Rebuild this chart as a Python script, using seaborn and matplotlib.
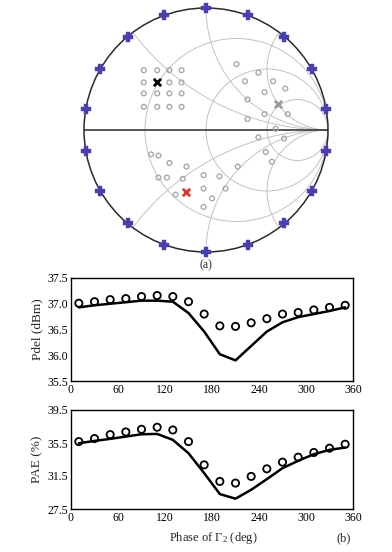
import numpy as np
import matplotlib
matplotlib.use("Agg")
import matplotlib.pyplot as plt
import matplotlib.patches as mpatches
import seaborn as sns

# === DATA ===
phase = [10, 30, 50, 70, 90, 110, 130, 150, 170, 190, 210, 230, 250, 270, 290, 310, 330, 350]

pdel_meas = [37.01, 37.04, 37.08, 37.10, 37.14, 37.16, 37.14, 37.04, 36.80, 36.57,
             36.56, 36.63, 36.71, 36.80, 36.83, 36.88, 36.93, 36.97]
pdel_sim = [36.93, 36.97, 37.00, 37.03, 37.06, 37.06, 37.04, 36.82, 36.46, 36.02,
            35.90, 36.18, 36.46, 36.64, 36.74, 36.80, 36.86, 36.93]

pae_meas = [35.67, 36.04, 36.52, 36.84, 37.16, 37.41, 37.08, 35.67, 32.85, 30.84,
            30.64, 31.45, 32.37, 33.18, 33.78, 34.35, 34.87, 35.35]
pae_sim = [35.47, 35.75, 36.00, 36.28, 36.56, 36.60, 35.88, 34.26, 31.85, 29.31,
           28.75, 29.83, 31.12, 32.45, 33.34, 34.14, 34.67, 34.95]

# load-pull points on the Smith chart (reflection coefficient, re / im)
lp_re = [-0.51, -0.40, -0.30, -0.20,
         -0.51, -0.30, -0.20,
         -0.51, -0.40, -0.30, -0.20,
         -0.51, -0.40, -0.30, -0.20,
         0.25, 0.43, 0.32, 0.55, 0.65, 0.48, 0.34, 0.67, 0.48, 0.34,
         0.57, 0.43, 0.64, 0.49, 0.54, 0.26,
         -0.45, -0.39, -0.30, -0.16, -0.39, -0.32, -0.19, -0.02, 0.11,
         0.16, -0.02, -0.25, 0.05, -0.02]
lp_im = [0.49, 0.49, 0.49, 0.49,
         0.39, 0.39, 0.39,
         0.30, 0.30, 0.30, 0.30,
         0.19, 0.19, 0.19, 0.19,
         0.54, 0.47, 0.40, 0.40, 0.34, 0.31, 0.25, 0.13, 0.13, 0.09,
         0.01, -0.06, -0.07, -0.18, -0.26, -0.30,
         -0.20, -0.21, -0.27, -0.30, -0.39, -0.39, -0.40, -0.37, -0.38,
         -0.48, -0.48, -0.53, -0.56, -0.63]

opt_re = [-0.40, -0.16, 0.59]
opt_im = [0.39, -0.51, 0.21]
opt_colors = ['black', '#e8312a', '#a09a9a']

r_circles = [1 / 3, 1, 3]
x_arcs = [0.5, 1, 2, -0.5, -1, -2]

# === STYLE ===
sns.set_theme(style="white")
plt.rcParams['font.family'] = ['Liberation Serif', 'DejaVu Serif']
plt.rcParams['mathtext.fontset'] = 'custom'
plt.rcParams['mathtext.rm'] = 'Liberation Serif'
plt.rcParams['mathtext.it'] = 'Liberation Serif:italic'

W, H = 392, 552
fig = plt.figure(figsize=(W / 100, H / 100), dpi=100)
fig.patch.set_facecolor('white')

# ── Smith chart ───────────────────────────────────────────────────────────
ax_s = fig.add_axes([84 / W, 1 - 252 / H, 244 / W, 244 / H])
ax_s.set_xlim(-1, 1)
ax_s.set_ylim(-1, 1)
ax_s.set_aspect('equal')
ax_s.axis('off')

grid_col = '#c8c1c1'
unit = mpatches.Circle((0, 0), 1, transform=ax_s.transData, fill=False, lw=0)
ax_s.add_patch(unit)
for r in r_circles:
    c = mpatches.Circle((r / (1 + r), 0), 1 / (1 + r), fill=False, ec=grid_col, lw=0.7)
    ax_s.add_patch(c)
for xv in x_arcs:
    c = mpatches.Circle((1, 1 / xv), 1 / abs(xv), fill=False, ec=grid_col, lw=0.7)
    ax_s.add_patch(c)
    c.set_clip_path(unit)

ax_s.add_patch(mpatches.Circle((0, 0), 1, fill=False, ec='#2a2a2a', lw=1.1, clip_on=False))
ax_s.plot([-1, 1], [0, 0], color='#2a2a2a', lw=1.1)

sns.scatterplot(x=lp_re, y=lp_im, marker='o', s=12, facecolor='none',
                edgecolor='#a8a0a0', linewidth=0.9, ax=ax_s, zorder=3)

th = np.deg2rad(phase)
sns.scatterplot(x=np.cos(th), y=np.sin(th), marker='P', s=45, color='#4a3fb2',
                edgecolor='#4a3fb2', linewidth=0.3, ax=ax_s, zorder=4, clip_on=False)

for xr, yi, col in zip(opt_re, opt_im, opt_colors):
    ax_s.scatter([xr], [yi], marker='x', s=28, color=col, linewidths=2.0, zorder=5)

fig.text(206 / W, 1 - 265 / H, '(a)', ha='center', va='center', fontsize=8.5)

# ── Pdel / PAE vs phase ──────────────────────────────────────────────────
def phase_panel(rect, meas, sim, ylim, yticks, ylabel):
    ax = fig.add_axes(rect)
    sns.lineplot(x=phase, y=sim, color='black', lw=1.8, ax=ax)
    sns.scatterplot(x=phase, y=meas, marker='o', s=27, facecolor='none',
                    edgecolor='black', linewidth=1.3, ax=ax, zorder=3)
    ax.set_xlim(0, 360)
    ax.set_ylim(*ylim)
    ax.set_xticks(range(0, 361, 60))
    ax.set_yticks(yticks)
    ax.set_yticklabels([f"{v:.1f}" for v in yticks])
    ax.tick_params(axis='both', labelsize=8.5, direction='in', length=2, pad=2, colors='black')
    for s in ax.spines.values():
        s.set_color('black')
        s.set_linewidth(1.0)
    ax.set_ylabel(ylabel, fontsize=9.5, labelpad=3)
    ax.set_xlabel('')
    return ax

phase_panel([71 / W, 1 - 381 / H, 282 / W, 103 / H], pdel_meas, pdel_sim,
            (35.5, 37.5), [35.5, 36.0, 36.5, 37.0, 37.5], 'Pdel (dBm)')
ax_b = phase_panel([71 / W, 1 - 509 / H, 282 / W, 99 / H], pae_meas, pae_sim,
                   (27.5, 39.5), [27.5, 31.5, 35.5, 39.5], 'PAE (%)')

fig.text(213 / W, 1 - 538 / H, r'Phase of $\mathit{\Gamma}_2$ (deg)', ha='center', va='center', fontsize=9)
fig.text(344 / W, 1 - 538 / H, '(b)', ha='center', va='center', fontsize=9)

fig.savefig('out.png', dpi=100, facecolor='white')
